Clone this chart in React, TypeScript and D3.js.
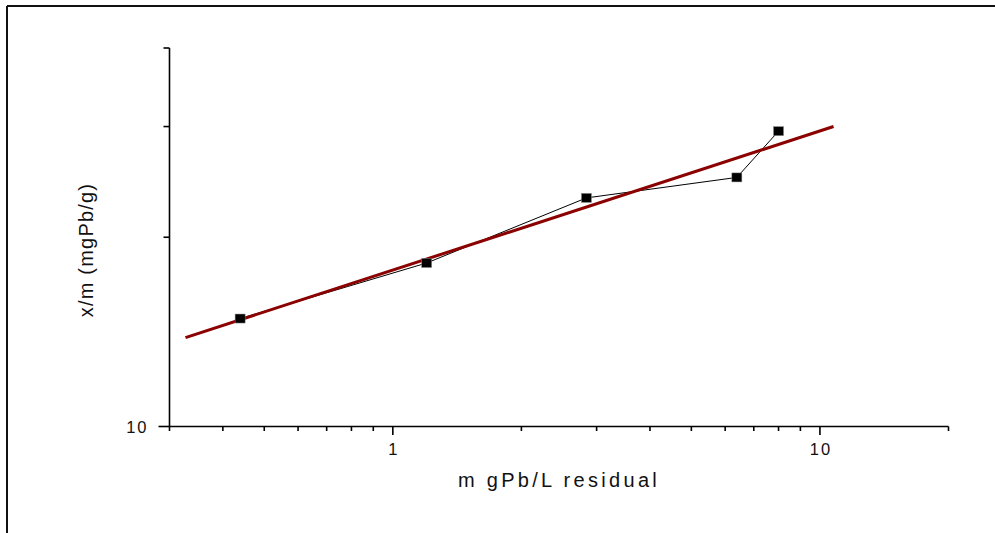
import React from "react";
import * as d3 from "d3";

const xValues = [0.439, 1.2, 2.84, 6.39, 8.0];
const yValues = [14.85, 18.2, 23.1, 24.9, 29.5];
const fitX = [0.327, 10.76];
const fitY = [13.85, 30.0];
const xTickLabels = [1, 10];
const xMinorTicks = [0.3, 0.4, 0.5, 0.6, 0.7, 0.8, 0.9, 2, 3, 4, 5, 6, 7, 8, 9, 20];
const yTickLabels = [10];
const yMinorTicks = [20, 30, 40];

const W = 995;
const H = 533;
const left = 169.5;
const right = 948.5;
const top = 48;
const bottom = 426.5;

export default function App() {
  const x = d3.scaleLog().domain([0.3, 20]).range([left, right]);
  const y = d3.scaleLog().domain([10, 40]).range([bottom, top]);
  const pts = xValues.map((v, i) => [x(v), y(yValues[i])] as [number, number]);
  const line = d3.line();
  const fitPts = fitX.map((v, i) => [x(v), y(fitY[i])] as [number, number]);
  const font = "'Liberation Sans', Arial, sans-serif";
  return (
    <svg
      width={W}
      height={H}
      style={{ position: "absolute", left: 0, top: 0, background: "#fff" }}
    >
      <rect x={0} y={0} width={W} height={H} fill="#fff" />
      {/* frame */}
      <line x1={7} y1={6} x2={W} y2={6} stroke="#111" strokeWidth={2} />
      <line x1={7} y1={6} x2={7} y2={H} stroke="#111" strokeWidth={2} />
      {/* axes */}
      <line x1={left} y1={top} x2={left} y2={bottom} stroke="#000" strokeWidth={1.6} />
      <line x1={left} y1={bottom} x2={right} y2={bottom} stroke="#000" strokeWidth={1.6} />
      {yMinorTicks.map((t) => (
        <line key={"ym" + t} x1={left - 6} x2={left} y1={y(t)} y2={y(t)} stroke="#000" strokeWidth={1.6} />
      ))}
      {yTickLabels.map((t) => (
        <g key={"yt" + t}>
          <line x1={left - 11} x2={left} y1={y(t)} y2={y(t)} stroke="#000" strokeWidth={1.6} />
          <text
            x={left - 21}
            y={y(t) + 6}
            textAnchor="end"
            fontFamily={font}
            fontSize={16.5}
            letterSpacing={2}
            fill="#111"
          >
            {t}
          </text>
        </g>
      ))}
      {xMinorTicks.map((t) => (
        <line key={"xm" + t} x1={x(t)} x2={x(t)} y1={bottom} y2={bottom + 4.5} stroke="#000" strokeWidth={1.6} />
      ))}
      {xTickLabels.map((t) => (
        <g key={"xt" + t}>
          <line x1={x(t)} x2={x(t)} y1={bottom} y2={bottom + 8.5} stroke="#000" strokeWidth={1.6} />
          <text
            x={x(t) + 1}
            y={455}
            textAnchor="middle"
            fontFamily={font}
            fontSize={16.5}
            letterSpacing={2}
            fill="#111"
          >
            {t}
          </text>
        </g>
      ))}
      {/* data line */}
      <path d={line(pts) || ""} fill="none" stroke="#000" strokeWidth={1} />
      {/* fit line */}
      <path d={line(fitPts) || ""} fill="none" stroke="#8b0000" strokeWidth={3} />
      {/* markers */}
      {pts.map(([px, py], i) => (
        <rect key={"m" + i} x={px - 5} y={py - 4.5} width={10} height={9} fill="#000" stroke="#888" strokeWidth={0.5} />
      ))}
      {/* axis titles */}
      <text
        x={559}
        y={487}
        textAnchor="middle"
        fontFamily={font}
        fontSize={20}
        letterSpacing={3.3}
        fill="#111"
      >
        m gPb/L residual
      </text>
      <text
        transform={`translate(93,250) rotate(-90)`}
        textAnchor="middle"
        fontFamily={font}
        fontSize={20}
        letterSpacing={1.2}
        fill="#111"
      >
        x/m (mgPb/g)
      </text>
    </svg>
  );
}
